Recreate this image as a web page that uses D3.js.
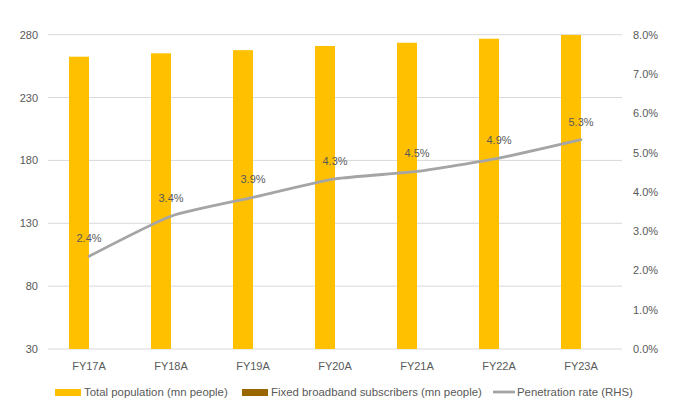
<!DOCTYPE html>
<html>
<head>
<meta charset="utf-8">
<script src="https://cdn.jsdelivr.net/npm/d3@7"></script>
<style>
  html, body { margin: 0; padding: 0; background: #fff; }
  svg { display: block; }
  text { font-family: "Liberation Sans", Arial, sans-serif; fill: #595959; }
</style>
</head>
<body>
<svg id="chart" width="674" height="403"></svg>
<script>
// ---- data ----
const categories = ["FY17A", "FY18A", "FY19A", "FY20A", "FY21A", "FY22A", "FY23A"];
const totalPopulation = [262.5, 265.2, 267.7, 271.0, 273.6, 276.8, 279.8];
const broadbandSubscribers = [6.2, 9.0, 10.3, 11.7, 12.4, 13.5, 14.9];
const penetrationRate = [2.36, 3.38, 3.86, 4.33, 4.52, 4.86, 5.33];
const penetrationLabels = ["2.4%", "3.4%", "3.9%", "4.3%", "4.5%", "4.9%", "5.3%"];
const leftTicks = [30, 80, 130, 180, 230, 280];
const rightTicks = [0, 1, 2, 3, 4, 5, 6, 7, 8];
const legendItems = ["Total population (mn people)", "Fixed broadband subscribers (mn people)", "Penetration rate (RHS)"];

// ---- layout ----
const svg = d3.select("#chart");
const plot = { left: 48, right: 622, top: 34.7, bottom: 349 };
const colors = { pop: "#FFC000", bb: "#996600", line: "#A5A5A5", grid: "#D9D9D9" };

const x = d3.scaleBand().domain(categories).range([plot.left, plot.right]).paddingInner(0).paddingOuter(0);
const xSub = d3.scaleBand().domain(["pop", "bb"]).range([x.bandwidth() / 2 - 20, x.bandwidth() / 2 + 20]);
const yL = d3.scaleLinear().domain([30, 280]).range([plot.bottom, plot.top]);
const yR = d3.scaleLinear().domain([0, 8]).range([plot.bottom, plot.top]);

// gridlines
svg.append("g").selectAll("line").data(leftTicks).join("line")
  .attr("x1", plot.left).attr("x2", plot.right)
  .attr("y1", d => yL(d)).attr("y2", d => yL(d))
  .attr("stroke", colors.grid).attr("stroke-width", 1);

// left axis
const axL = svg.append("g").attr("transform", `translate(${plot.left},0)`)
  .call(d3.axisLeft(yL).tickValues(leftTicks).tickSize(0).tickPadding(10));
axL.select(".domain").remove();
axL.selectAll("text").style("font-size", "11px").attr("fill", "#595959");

// right axis
const axR = svg.append("g").attr("transform", `translate(${plot.right},0)`)
  .call(d3.axisRight(yR).tickValues(rightTicks).tickSize(0).tickPadding(11).tickFormat(d => d.toFixed(1) + "%"));
axR.select(".domain").remove();
axR.selectAll("text").style("font-size", "11px").attr("fill", "#595959");

// x axis labels
const axX = svg.append("g").attr("transform", `translate(0,${plot.bottom})`)
  .call(d3.axisBottom(x).tickSize(0).tickPadding(13));
axX.select(".domain").remove();
axX.selectAll("text").style("font-size", "11px").attr("fill", "#595959");

// bars
svg.append("clipPath").attr("id", "plotclip").append("rect")
  .attr("x", plot.left).attr("y", plot.top - 5).attr("width", plot.right - plot.left).attr("height", plot.bottom - plot.top + 5);

const barsG = svg.append("g").attr("clip-path", "url(#plotclip)");
barsG.selectAll("rect.pop").data(categories).join("rect").attr("class", "pop")
  .attr("x", (d) => x(d) + xSub("pop"))
  .attr("width", xSub.bandwidth())
  .attr("y", (d, i) => yL(totalPopulation[i]))
  .attr("height", (d, i) => Math.max(0, yL(30) - yL(totalPopulation[i])))
  .attr("fill", colors.pop);
barsG.selectAll("rect.bb").data(categories).join("rect").attr("class", "bb")
  .attr("x", (d) => x(d) + xSub("bb"))
  .attr("width", xSub.bandwidth())
  .attr("y", (d, i) => Math.min(yL(30), yL(broadbandSubscribers[i])))
  .attr("height", (d, i) => Math.max(0, yL(30) - yL(broadbandSubscribers[i])))
  .attr("fill", colors.bb);

// line
const pts = categories.map((c, i) => [x(c) + x.bandwidth() / 2, yR(penetrationRate[i])]);
svg.append("path").datum(pts)
  .attr("d", d3.line().curve(d3.curveCardinal.tension(0.45)))
  .attr("fill", "none").attr("stroke", colors.line).attr("stroke-width", 2.8).attr("stroke-linecap", "round");

// data labels
svg.append("g").selectAll("text").data(categories).join("text")
  .attr("x", (d) => x(d) + x.bandwidth() / 2)
  .attr("y", (d, i) => yR(penetrationRate[i]) - 14)
  .attr("text-anchor", "middle")
  .style("font-size", "11px")
  .attr("fill", "#595959")
  .text((d, i) => penetrationLabels[i]);

// legend
const legY = 392;
const legX = [55, 242, 493];
const legG = svg.append("g");
legendItems.forEach((label, i) => {
  const g = legG.append("g").attr("transform", `translate(${legX[i]},${legY})`);
  if (i < 2) {
    g.append("rect").attr("x", 0).attr("y", -3).attr("width", 26).attr("height", 7)
      .attr("fill", i === 0 ? colors.pop : colors.bb);
  } else {
    g.append("line").attr("x1", 0).attr("x2", 22).attr("y1", 0).attr("y2", 0)
      .attr("stroke", colors.line).attr("stroke-width", 2.8);
  }
  g.append("text").attr("x", i < 2 ? 29 : 24).attr("y", 4)
    .style("font-size", "11.4px").attr("fill", "#595959").text(label);
});
</script>
</body>
</html>
